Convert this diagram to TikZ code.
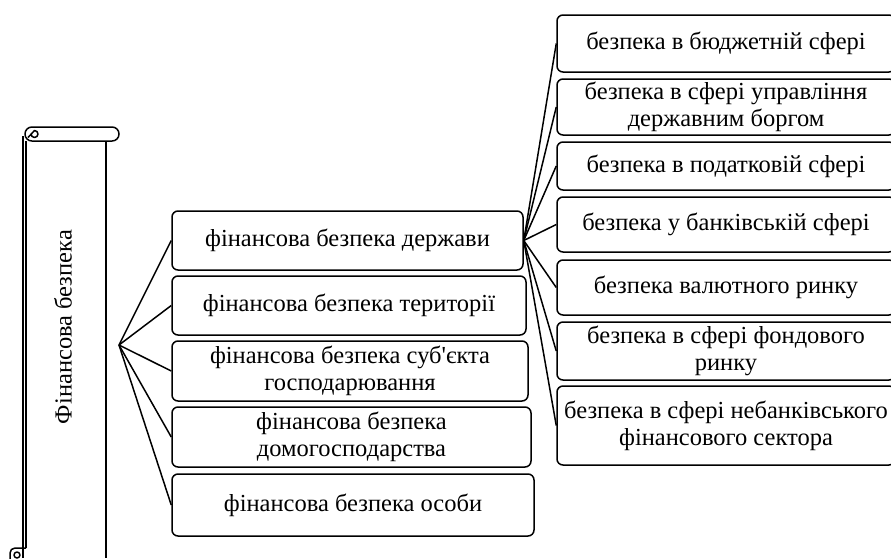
\documentclass[tikz,border=0pt]{standalone}
\usepackage{fontspec}
\setmainfont{Liberation Serif}
\usepackage{tikz}
\usetikzlibrary{positioning}
\tikzstyle{kind} = [rectangle, draw, rounded corners=6pt, line width=1.5pt, align=center, inner sep=0pt, font=\fontsize{24.5}{27}\selectfont]
\tikzstyle{sphere} = [kind, minimum width=338pt]
\tikzstyle{link} = [line width=1.5pt]
\tikzstyle{roll} = [line width=1.5pt, line join=round]

\begin{document}
\begin{tikzpicture}[x=1pt, y=-1pt]
  \useasboundingbox (0,0) rectangle (891,558);
  % сувій
  \draw[roll, rounded corners=6.9pt] (25,127) rectangle (119,141);
  \draw[roll] (31,134) arc (180:-90:3.5) -- (28,137.5);
  \draw[roll] (23,136) -- (23,558);
  \draw[roll] (26,141) -- (26,548);
  \draw[roll] (106,141) -- (106,558);
  \draw[roll, rounded corners=5pt] (26,548) -- (10,548) -- (10,564) -- (26,564);
  \draw[roll] (17,555) circle (3);
  \node[rotate=90, font=\fontsize{24.5}{27}\selectfont] (fin) at (63,327) {Фінансова безпека};
  \coordinate (hubL) at (119,345);

  % рівні
  \node[kind, minimum width=351pt, minimum height=59pt] (state) at (347.5,240.5) {фінансова безпека держави};
  \node[kind, minimum width=354pt, minimum height=59pt] (terr) at (349,305.5) {фінансова безпека території};
  \node[kind, minimum width=356pt, minimum height=60pt] (firm) at (350,371) {фінансова безпека суб\textquotesingle єкта\\господарювання};
  \node[kind, minimum width=359pt, minimum height=60pt] (house) at (351.5,437) {фінансова безпека\\домогосподарства};
  \node[kind, minimum width=362pt, minimum height=62pt] (pers) at (353,505) {фінансова безпека особи};

  \draw[link] (hubL) -- (state.west);
  \draw[link] (hubL) -- (terr.west);
  \draw[link] (hubL) -- (firm.west);
  \draw[link] (hubL) -- (house.west);
  \draw[link] (hubL) -- (pers.west);

  % сфери
  \node[sphere, minimum height=57pt] (budg) at (726,43.5) {безпека в бюджетній сфері};
  \node[sphere, minimum height=56pt] (debt) at (726,107) {безпека в сфері управління\\державним боргом};
  \node[sphere, minimum height=48pt] (tax) at (726,166) {безпека в податковій сфері};
  \node[sphere, minimum height=55pt] (bank) at (726,224.5) {безпека у банківській сфері};
  \node[sphere, minimum height=55pt] (curr) at (726,287.5) {безпека валютного ринку};
  \node[sphere, minimum height=58pt] (stock) at (726,351) {безпека в сфері фондового\\ринку};
  \node[sphere, minimum height=79pt] (nonb) at (726,425.5) {\makebox[0pt]{безпека в сфері небанківського}\\фінансового сектора};

  \draw[link] (state.east) -- (budg.west);
  \draw[link] (state.east) -- (debt.west);
  \draw[link] (state.east) -- (tax.west);
  \draw[link] (state.east) -- (bank.west);
  \draw[link] (state.east) -- (curr.west);
  \draw[link] (state.east) -- (stock.west);
  \draw[link] (state.east) -- (nonb.west);
\end{tikzpicture}
\end{document}
